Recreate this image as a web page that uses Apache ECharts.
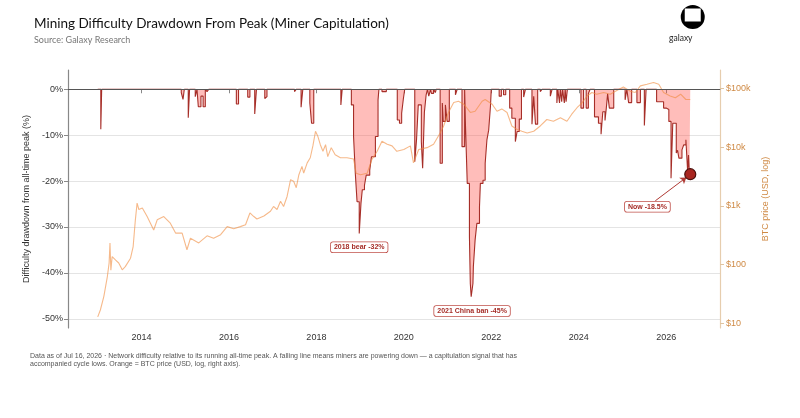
<!DOCTYPE html>
<html>
<head>
<meta charset="utf-8">
<script src="https://cdn.jsdelivr.net/npm/echarts@6/dist/echarts.min.js"></script>
<style>
  html, body { margin: 0; padding: 0; background: #fff; }
  #chart { width: 800px; height: 418px; }
</style>
</head>
<body>
<div id="chart"></div>
<script>
// difficulty drawdown from running ATH (%), one value per adjustment step
const ddYears = [
  2013.00, 2013.07, 2013.09, 2014.91, 2014.95, 2014.98, 2015.07, 2015.10, 2015.23, 2015.27,
  2015.30, 2015.36, 2015.41, 2015.46, 2015.50, 2015.54, 2016.17, 2016.22, 2016.43, 2016.48,
  2016.59, 2016.63, 2016.82, 2016.84, 2016.87, 2017.50, 2017.54, 2017.65, 2017.69, 2017.85,
  2017.89, 2017.94, 2018.56, 2018.59, 2018.80, 2018.85, 2018.89, 2018.93, 2018.98, 2019.02,
  2019.05, 2019.10, 2019.14, 2019.22, 2019.26, 2019.35, 2019.41, 2019.43, 2019.50, 2019.60,
  2019.85, 2019.90, 2019.95, 2019.99, 2020.02, 2020.25, 2020.29, 2020.33, 2020.40, 2020.43,
  2020.47, 2020.51, 2020.54, 2020.57, 2020.61, 2020.63, 2020.68, 2020.72, 2020.74, 2020.83,
  2020.88, 2020.90, 2020.95, 2020.99, 2021.04, 2021.18, 2021.22, 2021.33, 2021.39, 2021.41,
  2021.45, 2021.50, 2021.52, 2021.54, 2021.58, 2021.59, 2021.63, 2021.67, 2021.73, 2021.75,
  2021.81, 2021.86, 2021.90, 2021.94, 2021.98, 2022.00, 2022.18, 2022.23, 2022.28, 2022.33,
  2022.42, 2022.47, 2022.55, 2022.59, 2022.64, 2022.69, 2022.74, 2022.78, 2022.93, 2022.97,
  2023.01, 2023.06, 2023.12, 2023.16, 2023.35, 2023.39, 2023.50, 2023.52, 2023.56, 2023.58,
  2023.61, 2023.63, 2023.67, 2023.69, 2023.71, 2023.74, 2024.05, 2024.11, 2024.17, 2024.22,
  2024.26, 2024.36, 2024.45, 2024.51, 2024.55, 2024.60, 2024.63, 2024.66, 2024.70, 2024.80,
  2025.06, 2025.10, 2025.14, 2025.21, 2025.33, 2025.41, 2025.50, 2025.54, 2025.78, 2025.94,
  2026.00, 2026.06, 2026.11, 2026.15, 2026.23, 2026.26, 2026.29, 2026.36, 2026.40, 2026.45,
  2026.49, 2026.51, 2026.53, 2026.55
];
const ddValues = [
  0, -8.7, 0, -0.7, -2.2, 0, -6.2, 0, -1.6, 0,
  -3.8, -1.5, -3.8, 0, -0.5, 0, -3.2, 0, -1.7, 0,
  -5.4, 0, -2.0, -1.6, 0, -0.5, 0, -3.9, 0, -3.0,
  -7.4, 0, -3.4, 0, -3.4, -10.3, -18.3, -24.5, -31.4, -24.8,
  -21.9, -20.9, -18.7, -17.6, -14.7, -10.3, -2.3, 0, -0.5, 0,
  -6.7, -7.4, -5.2, -2.0, 0, -15.8, -11.0, -3.4, -11.4, -17.2,
  -5.0, -1.2, 0, -1.5, 0, -0.9, 0, -0.7, 0, -16.1,
  -3.0, -7.0, -3.4, -7.0, 0, -1.2, 0, -12.5, 0, -8.0,
  -20.5, -32.1, -42.3, -45.2, -42.3, -38.6, -32.8, -29.2, -25.6, -20.5,
  -19.8, -16.1, -11.0, -8.9, -3.8, 0, -1.5, 0, -1.2, 0,
  -4.1, -6.3, -11.4, -9.2, -6.5, 0, -1.7, 0, -7.6, -1.5,
  -7.6, 0, -0.5, 0, -1.5, 0, -3.0, 0, -3.0, 0,
  -2.7, 0, -3.0, 0, -2.7, 0, -4.1, 0, -4.1, -0.9,
  0, -6.0, -7.4, -9.8, -4.9, -6.8, -4.1, -1.0, -4.1, 0,
  -2.3, 0, -2.9, 0, -2.9, 0, -7.9, 0, -2.7, -4.1,
  -4.4, -7.0, -19.4, -7.4, -13.9, -13.3, -15.0, -13.2, -12.1, -11.0,
  -17.9, -14.3, -18.5, -18.5
];

// BTC price (USD), right log axis
const btcYears = [
  2013.00, 2013.06, 2013.14, 2013.22, 2013.26, 2013.28, 2013.30, 2013.33, 2013.41, 2013.48,
  2013.56, 2013.63, 2013.75, 2013.81, 2013.86, 2013.90, 2013.94, 2014.02, 2014.13, 2014.28,
  2014.36, 2014.51, 2014.66, 2014.78, 2014.93, 2015.04, 2015.12, 2015.31, 2015.50, 2015.65,
  2015.81, 2015.96, 2016.11, 2016.26, 2016.38, 2016.48, 2016.57, 2016.64, 2016.80, 2016.95,
  2017.02, 2017.10, 2017.18, 2017.25, 2017.33, 2017.41, 2017.48, 2017.54, 2017.60, 2017.67,
  2017.71, 2017.79, 2017.86, 2017.92, 2017.98, 2018.03, 2018.09, 2018.15, 2018.21, 2018.26,
  2018.34, 2018.43, 2018.55, 2018.70, 2018.85, 2018.91, 2019.01, 2019.16, 2019.27, 2019.39,
  2019.50, 2019.62, 2019.73, 2019.84, 2020.00, 2020.15, 2020.22, 2020.34, 2020.53, 2020.68,
  2020.83, 2020.91, 2021.02, 2021.14, 2021.25, 2021.37, 2021.52, 2021.63, 2021.79, 2021.86,
  2022.02, 2022.13, 2022.24, 2022.36, 2022.47, 2022.59, 2022.70, 2022.82, 2022.97, 2023.12,
  2023.27, 2023.42, 2023.58, 2023.73, 2023.84, 2023.96, 2024.07, 2024.19, 2024.30, 2024.41,
  2024.57, 2024.72, 2024.91, 2025.02, 2025.18, 2025.29, 2025.41, 2025.56, 2025.71, 2025.83,
  2025.94, 2026.09, 2026.21, 2026.33, 2026.45, 2026.55
];
const btcPrice = [
  13, 17, 29, 63, 107, 235, 81, 138, 120, 107,
  82, 93, 129, 204, 575, 1120, 870, 920, 660, 390,
  580, 660, 510, 345, 345, 180, 282, 235, 310, 282,
  325, 445, 410, 445, 480, 760, 660, 600, 675, 810,
  980, 870, 1200, 980, 1450, 2800, 2630, 2040, 3400, 4700,
  3630, 5400, 6600, 10500, 18600, 15500, 11000, 8500, 11000, 6900,
  9800, 7400, 6600, 6600, 6300, 3600, 3400, 3600, 6200, 8500,
  12600, 11200, 10500, 8500, 9100, 10500, 5400, 9100, 9800, 11200,
  17400, 22900, 38900, 57500, 60300, 53700, 38900, 40700, 60300, 64600,
  53700, 40700, 44700, 38900, 22900, 20000, 18600, 17400, 18600, 22900,
  29500, 27500, 31600, 27500, 36300, 46800, 56000, 74000, 85000, 79400,
  85000, 79400, 95500, 105000, 89000, 85000, 110000, 117000, 126000, 117000,
  85000, 74000, 69000, 79400, 64600, 64600
];

const yearTicks = [2014, 2016, 2018, 2020, 2022, 2024, 2026];
const pctTicks = [-50, -40, -30, -20, -10, 0];
const priceTicks = [10, 100, 1000, 10000, 100000];

const dark = '#A62E28';
const orange = '#F08A3C';
const priceColor = '#CF8A45';
const font = '"Liberation Sans", Arial, sans-serif';

const lastIdx = ddYears.length - 1;

const chart = echarts.init(document.getElementById('chart'), null, { renderer: 'canvas' });

const option = {
  backgroundColor: '#fff',
  animation: false,
  title: {
    text: 'Mining Difficulty Drawdown From Peak (Miner Capitulation)',
    subtext: 'Source: Galaxy Research',
    left: 29,
    top: 12,
    itemGap: 5,
    textStyle: { fontFamily: 'Lato', fontWeight: 'normal', fontSize: 13.5, color: '#111' },
    subtextStyle: { fontFamily: 'Lato', fontSize: 9, color: '#777' }
  },
  grid: { left: 68, right: 80, top: 70, bottom: 90 },
  xAxis: {
    type: 'value',
    min: 2012.32,
    max: 2027.23,
    axisLine: { lineStyle: { color: '#888', width: 1.2 } },
    axisTick: { customValues: yearTicks, length: 4, lineStyle: { color: '#888' } },
    axisLabel: {
      customValues: yearTicks,
      formatter: (v) => String(Math.round(v)),
      color: '#333', fontSize: 9, fontFamily: font, margin: 5
    },
    splitLine: { show: false }
  },
  yAxis: [
    {
      type: 'value',
      min: -52,
      max: 4.2,
      name: 'Difficulty drawdown from all-time peak (%)',
      nameLocation: 'middle',
      nameRotate: 90,
      nameGap: 33,
      nameTextStyle: { color: '#333', fontSize: 9, fontFamily: font },
      axisLine: { show: true, lineStyle: { color: '#888', width: 1.2 } },
      axisTick: { show: true, customValues: pctTicks, length: 4, lineStyle: { color: '#888' } },
      axisLabel: {
        customValues: pctTicks,
        formatter: (v) => Math.round(v) + '%',
        color: '#333', fontSize: 9, fontFamily: font, margin: 5
      },
      splitLine: { show: true, lineStyle: { color: '#e4e4e4', width: 1 } }
    },
    {
      type: 'log',
      min: 8.4,
      max: 205000,
      position: 'right',
      name: 'BTC price (USD, log)',
      nameLocation: 'middle',
      nameRotate: 90,
      nameGap: 37,
      nameTextStyle: { color: priceColor, fontSize: 9, fontFamily: font },
      axisLine: { show: true, lineStyle: { color: '#E6CDAE', width: 1.2 } },
      axisTick: { show: true, customValues: priceTicks, length: 4, lineStyle: { color: '#E0C4A0' } },
      axisLabel: {
        customValues: priceTicks,
        formatter: (v) => v >= 1000 ? '$' + Math.round(v / 1000) + 'k' : '$' + Math.round(v),
        color: priceColor, fontSize: 9, fontFamily: font, margin: 6
      },
      splitLine: { show: false }
    }
  ],
  series: [
    {
      name: 'Drawdown',
      type: 'line',
      step: 'end',
      symbol: 'none',
      data: ddYears.map((x, i) => [x, ddValues[i]]),
      lineStyle: { color: dark, width: 1.1 },
      areaStyle: { color: 'rgba(255, 75, 65, 0.52)', origin: 'auto' },
      z: 2,
      markLine: {
        silent: true,
        symbol: 'none',
        label: { show: false },
        lineStyle: { color: '#555', width: 1, type: 'solid' },
        data: [{ yAxis: 0 }]
      },
      markPoint: {
        symbol: 'rect',
        symbolSize: 0,
        label: {
          show: true,
          color: dark,
          fontSize: 7,
          fontWeight: 'bold',
          fontFamily: font,
          backgroundColor: '#fff',
          borderColor: '#C0504A',
          borderWidth: 0.8,
          borderRadius: 2,
          padding: [2, 3, 1, 3]
        },
        data: [
          { name: '2018 bear -32%', coord: [2018.98, -34.4], value: '2018 bear -32%', label: { formatter: '{c}' } },
          { name: '2021 China ban -45%', coord: [2021.56, -48.3], value: '2021 China ban -45%', label: { formatter: '{c}' } },
          { name: 'Now -18.5%', coord: [2025.57, -25.6], value: 'Now -18.5%', label: { formatter: '{c}' } }
        ]
      }
    },
    {
      name: 'BTC price',
      type: 'line',
      yAxisIndex: 1,
      symbol: 'none',
      data: btcYears.map((x, i) => [x, btcPrice[i]]),
      lineStyle: { color: orange, width: 1.1, opacity: 0.6 },
      z: 3
    },
    {
      name: 'Now',
      type: 'scatter',
      data: [[ddYears[lastIdx], ddValues[lastIdx]]],
      symbolSize: 11,
      itemStyle: { color: '#A8251F', borderColor: '#4a0e0a', borderWidth: 1.2, opacity: 1 },
      z: 5,
      markLine: {
        silent: true,
        symbol: ['none', 'arrow'],
        symbolSize: 6,
        label: { show: false },
        lineStyle: { color: '#B03A34', width: 1, type: 'solid' },
        data: [[{ coord: [2025.75, -24.3] }, { coord: [2026.46, -19.2] }]]
      }
    }
  ],
  graphic: [
    {
      type: 'group',
      left: 669,
      top: 5,
      children: [
        { type: 'circle', shape: { cx: 12, cy: 12, r: 12 }, style: { fill: '#000' } },
        { type: 'rect', shape: { x: 4, y: 3.5, width: 16, height: 13 }, style: { fill: '#fff' } },
        {
          type: 'text', left: 'center', top: 29,
          style: { text: 'galaxy', fill: '#222', fontSize: 8.5, fontFamily: 'Lato', x: 12, align: 'center' }
        }
      ]
    },
    {
      type: 'text',
      left: 30,
      top: 352,
      style: {
        text: 'Data as of Jul 16, 2026 · Network difficulty relative to its running all-time peak. A falling line means miners are powering down — a capitulation signal that has\naccompanied cycle lows. Orange = BTC price (USD, log, right axis).',
        fill: '#555',
        fontSize: 7,
        lineHeight: 8,
        fontFamily: font
      }
    }
  ]
};

chart.setOption(option);
window.addEventListener('resize', () => chart.resize());
</script>
</body>
</html>
